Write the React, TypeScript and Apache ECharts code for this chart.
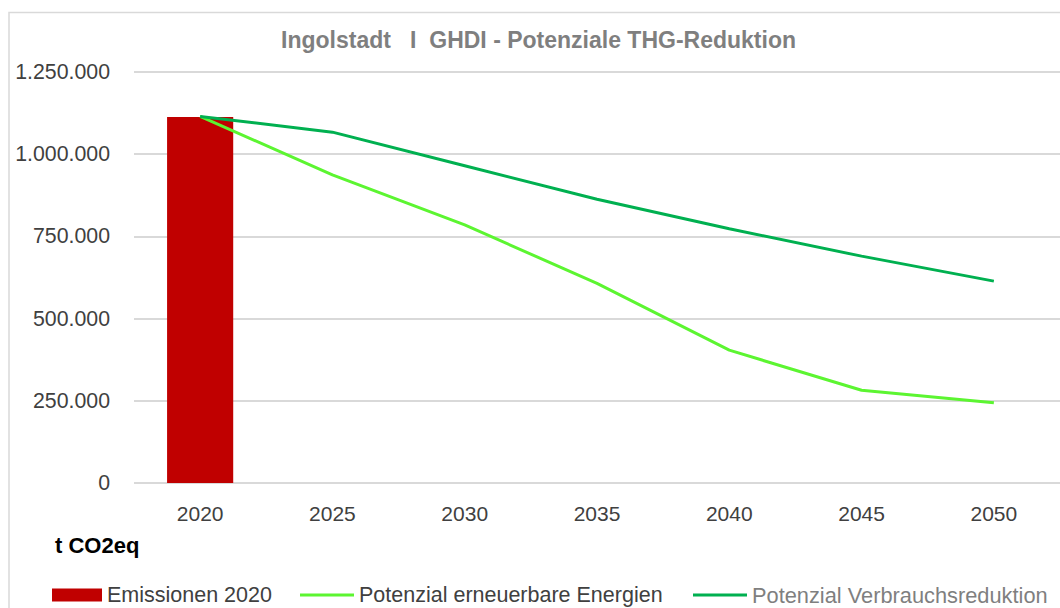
import React, { useEffect, useRef } from 'react';
import * as echarts from 'echarts';

const categories = ['2020', '2025', '2030', '2035', '2040', '2045', '2050'];
const emissionen2020 = [1113000, null, null, null, null, null, null];
const erneuerbareEnergien = [1115000, 937000, 785000, 607000, 404000, 282000, 244000];
const verbrauchsreduktion = [1115000, 1067000, 965000, 863000, 773000, 690000, 614000];
const seriesNames = ['Emissionen 2020', 'Potenzial erneuerbare Energien', 'Potenzial Verbrauchsreduktion'];
const titleText = 'Ingolstadt   I  GHDI - Potenziale THG-Reduktion';
const unitText = 't CO2eq';

const FONT = '"Liberation Sans", Arial, sans-serif';

function fmt(v: number): string {
  return String(v).replace(/\B(?=(\d{3})+(?!\d))/g, '.');
}

export default function App() {
  const ref = useRef<HTMLDivElement>(null);
  useEffect(() => {
    const chart = echarts.init(ref.current!, null, { renderer: 'svg' });
    const legendBase = {
      top: 584,
      padding: 0,
      selectedMode: false,
      textStyle: { fontFamily: FONT, fontSize: 21.5, color: '#404040' },
    };
    chart.setOption({
      animation: false,
      backgroundColor: '#ffffff',
      textStyle: { fontFamily: FONT },
      title: {
        text: titleText,
        left: 538.5,
        textAlign: 'center',
        top: 28.5,
        padding: 0,
        textStyle: { fontFamily: FONT, fontSize: 23, fontWeight: 'bold', color: '#7f7f7f' },
      },
      grid: { left: 134, right: 0, top: 72, bottom: 125, containLabel: false },
      xAxis: {
        type: 'category',
        data: categories,
        axisLine: { show: false },
        axisTick: { show: false },
        axisLabel: { margin: 20, fontFamily: FONT, fontSize: 21, color: '#404040' },
      },
      yAxis: {
        type: 'value',
        min: 0,
        max: 1250000,
        interval: 250000,
        axisLine: { show: false },
        axisTick: { show: false },
        splitLine: { lineStyle: { color: '#d9d9d9', width: 2 } },
        axisLabel: {
          margin: 24,
          fontFamily: FONT,
          fontSize: 21.3,
          color: '#404040',
          formatter: (v: number) => fmt(v),
        },
      },
      legend: [
        {
          ...legendBase,
          left: 52,
          data: [seriesNames[0]],
          icon: 'rect',
          itemWidth: 50,
          itemHeight: 13,
        },
        {
          ...legendBase,
          left: 300,
          data: [seriesNames[1]],
          icon: 'rect',
          itemWidth: 54,
          itemHeight: 3,
        },
        {
          ...legendBase,
          left: 693,
          data: [seriesNames[2]],
          icon: 'rect',
          itemWidth: 54,
          itemHeight: 3,
          textStyle: { fontFamily: FONT, fontSize: 21.8, color: '#7f7f7f' },
        },
      ],
      graphic: [
        {
          type: 'rect',
          silent: true,
          z: -1,
          shape: { x: 9, y: 12.5, width: 1200, height: 800 },
          style: { fill: 'none', stroke: '#d9d9d9', lineWidth: 1.5 },
        },
        {
          type: 'text',
          left: 55,
          top: 534,
          style: {
            text: unitText,
            fontFamily: FONT,
            fontSize: 22,
            fontWeight: 'bold',
            fill: '#000000',
          },
        },
      ],
      series: [
        {
          name: seriesNames[0],
          type: 'bar',
          data: emissionen2020,
          barWidth: '50%',
          itemStyle: { color: '#c00000' },
          z: 1,
        },
        {
          name: seriesNames[1],
          type: 'line',
          data: erneuerbareEnergien,
          symbol: 'none',
          lineStyle: { color: '#5cf531', width: 3 },
          itemStyle: { color: '#5cf531' },
          z: 3,
        },
        {
          name: seriesNames[2],
          type: 'line',
          data: verbrauchsreduktion,
          symbol: 'none',
          lineStyle: { color: '#00b050', width: 3 },
          itemStyle: { color: '#00b050' },
          z: 3,
        },
      ],
    });
    return () => chart.dispose();
  }, []);
  return (
    <div
      ref={ref}
      style={{ position: 'fixed', left: 0, top: 0, width: 1060, height: 608, background: '#ffffff' }}
    />
  );
}
